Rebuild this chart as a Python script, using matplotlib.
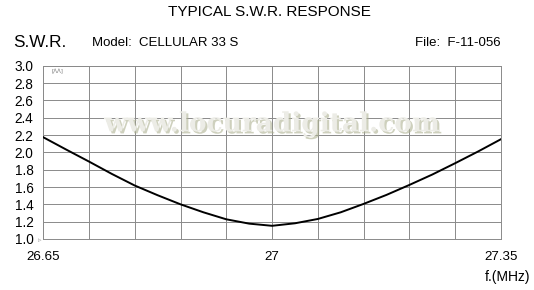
import numpy as np, matplotlib
matplotlib.use('Agg')
import matplotlib.pyplot as plt
import matplotlib.patheffects as pe
plt.rcParams.update({'font.family': 'Liberation Sans', 'font.size': 9})

freq = [26.65, 26.685, 26.72, 26.755, 26.79, 26.825, 26.86, 26.895, 26.93, 26.965, 27.0,
        27.035, 27.07, 27.105, 27.14, 27.175, 27.21, 27.245, 27.28, 27.315, 27.35]
swr = [2.175, 2.033, 1.894, 1.751, 1.617, 1.505, 1.40, 1.308, 1.227, 1.177, 1.152,
       1.181, 1.231, 1.308, 1.405, 1.509, 1.624, 1.744, 1.875, 2.01, 2.152]
yticks = [1.0, 1.2, 1.4, 1.6, 1.8, 2.0, 2.2, 2.4, 2.6, 2.8, 3.0]
xlabels = ['26.65', '27', '27.35']

fig = plt.figure(figsize=(5.34, 2.90), dpi=100, facecolor='white')
ax = fig.add_axes([0.081, 0.176, 0.857, 0.597])
ax.set_xlim(26.65, 27.35)
ax.set_ylim(1.0, 3.0)

ax.set_xticks(np.linspace(26.65, 27.35, 11))
ax.set_xticklabels([xlabels[0], '', '', '', '', xlabels[1], '', '', '', '', xlabels[2]])
ax.set_yticks(yticks)
ax.set_yticklabels([f'{v:.1f}' for v in yticks], fontsize=9.8)
ax.tick_params(axis='y', length=0, pad=7)
ax.tick_params(axis='x', length=0, labelsize=9.6, pad=9)
ax.grid(True, color='#8a8a8a', lw=0.7)
for s in ax.spines.values():
    s.set_color('#8a8a8a'); s.set_linewidth(0.7)

ax.plot(freq, swr, color='black', lw=1.4, zorder=3)

# watermark
ax.text(0.5, 0.665, 'www.locuradigital.com', transform=ax.transAxes, ha='center', va='center',
        fontsize=19, fontweight='bold', family='DejaVu Serif', color='#ececE6',
        path_effects=[pe.withSimplePatchShadow(offset=(1.5, -1.5), shadow_rgbFace='#aeb292', alpha=0.6)],
        zorder=2)

ax.text(0.018, 0.955, '[ᐱᐱ]', transform=ax.transAxes, fontsize=4, color='#777', family='DejaVu Sans')
fig.text(0.071, 0.172, '▹', fontsize=5, color='#999', family='DejaVu Sans', va='center', zorder=5)

fig.text(0.505, 0.958, 'TYPICAL S.W.R. RESPONSE', ha='center', va='center', fontsize=11,
         family='Liberation Sans')
fig.text(0.025, 0.852, 'S.W.R.', ha='left', va='center', fontsize=12.3)
fig.text(0.172, 0.852, 'Model:  CELLULAR 33 S', ha='left', va='center', fontsize=9.5)
fig.text(0.938, 0.852, 'File:  F-11-056', ha='right', va='center', fontsize=9.5)
fig.text(0.993, 0.045, 'f.(MHz)', ha='right', va='center', fontsize=10)

fig.savefig('out.png', dpi=100, facecolor='white')
